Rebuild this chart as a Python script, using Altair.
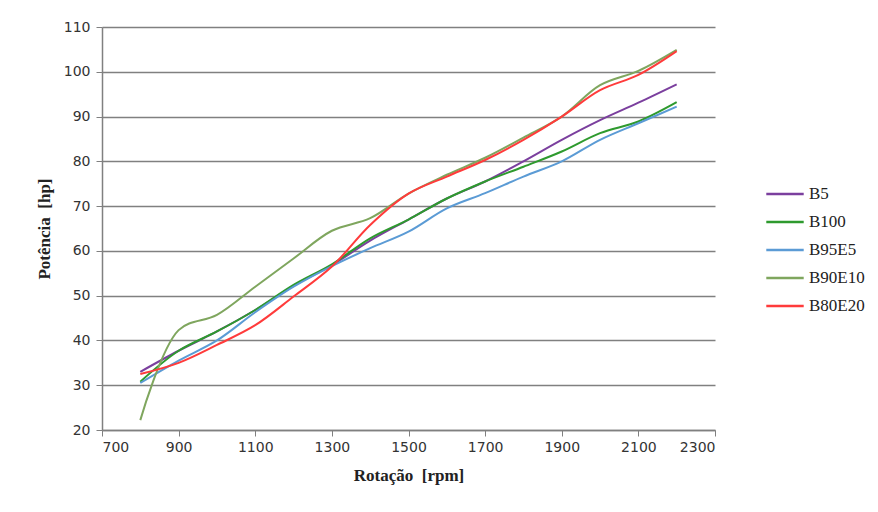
import altair as alt
import pandas as pd

rpm = [800, 900, 1000, 1100, 1200, 1300, 1400, 1500, 1600, 1700, 1800, 1900, 2000, 2100, 2200]
b5 = [33.0, 37.7, 42.0, 46.8, 52.2, 56.8, 62.3, 67.0, 71.7, 75.5, 80.0, 84.8, 89.2, 93.1, 97.2]
b100 = [30.8, 37.7, 42.0, 46.8, 52.4, 57.0, 62.8, 67.0, 71.7, 75.5, 78.8, 82.2, 86.3, 88.9, 93.2]
b95e5 = [30.5, 35.5, 40.0, 46.3, 52.0, 56.6, 60.6, 64.3, 69.5, 72.9, 76.6, 80.0, 84.8, 88.5, 92.2]
b90e10 = [22.2, 42.3, 45.7, 52.0, 58.3, 64.5, 67.3, 72.8, 77.0, 80.8, 85.3, 90.0, 97.0, 100.2, 104.9]
b80e20 = [32.5, 35.0, 39.0, 43.4, 49.8, 56.5, 65.8, 72.8, 76.6, 80.3, 84.8, 90.0, 95.9, 99.3, 104.6]

series = ["B5", "B100", "B95E5", "B90E10", "B80E20"]
colors = ["#7B3F9E", "#2E9A2E", "#5B9BD5", "#7FA65E", "#FF3B3B"]
x_ticks = [700, 900, 1100, 1300, 1500, 1700, 1900, 2100, 2300]
y_ticks = [20, 30, 40, 50, 60, 70, 80, 90, 100, 110]

rows = []
for name, vals in zip(series, [b5, b100, b95e5, b90e10, b80e20]):
    for r, v in zip(rpm, vals):
        rows.append({"rpm": r, "pot": v, "serie": name})
df = pd.DataFrame(rows)

chart = alt.Chart(df).mark_line(interpolate="catmull-rom", strokeWidth=2).encode(
    x=alt.X("rpm:Q",
            scale=alt.Scale(domain=[700, 2300], nice=False, zero=False),
            axis=alt.Axis(values=x_ticks, format="d", title="Rotação\u00a0 [rpm]", grid=False,
                          labelFont="DejaVu Sans", labelFontSize=14, labelColor="#333333",
                          labelPadding=4, tickSize=6, tickColor="#808080",
                          domainColor="#808080", domainWidth=1.5,
                          titleFont="Liberation Serif", titleFontSize=17, titleFontWeight="bold",
                          titleColor="#222222", titlePadding=13)),
    y=alt.Y("pot:Q",
            scale=alt.Scale(domain=[20, 110], nice=False, zero=False),
            axis=alt.Axis(values=y_ticks, format="d", title="Potência\u00a0 [hp]", grid=True,
                          gridColor="#808080", gridWidth=1.6,
                          labelFont="DejaVu Sans", labelFontSize=14, labelColor="#333333",
                          labelPadding=6, tickSize=6, tickColor="#808080",
                          domainColor="#808080", domainWidth=1.5,
                          titleFont="Liberation Serif", titleFontSize=17, titleFontWeight="bold",
                          titleColor="#222222", titlePadding=10)),
    color=alt.Color("serie:N",
                    scale=alt.Scale(domain=series, range=colors),
                    legend=alt.Legend(title=None, orient="none", legendX=663, legendY=147,
                                      symbolType="stroke", symbolSize=1400, symbolStrokeWidth=2.5,
                                      rowPadding=-3, padding=0, labelOffset=4,
                                      labelFont="Liberation Serif", labelFontSize=17,
                                      labelColor="#222222")),
).properties(
    width=613, height=403,
    autosize=alt.AutoSizeParams(type="none"),
    padding={"left": 94, "top": 19, "right": 150, "bottom": 70},
).configure_view(stroke="transparent")

chart.save("out.html", embed_options={"renderer": "svg", "actions": False})
